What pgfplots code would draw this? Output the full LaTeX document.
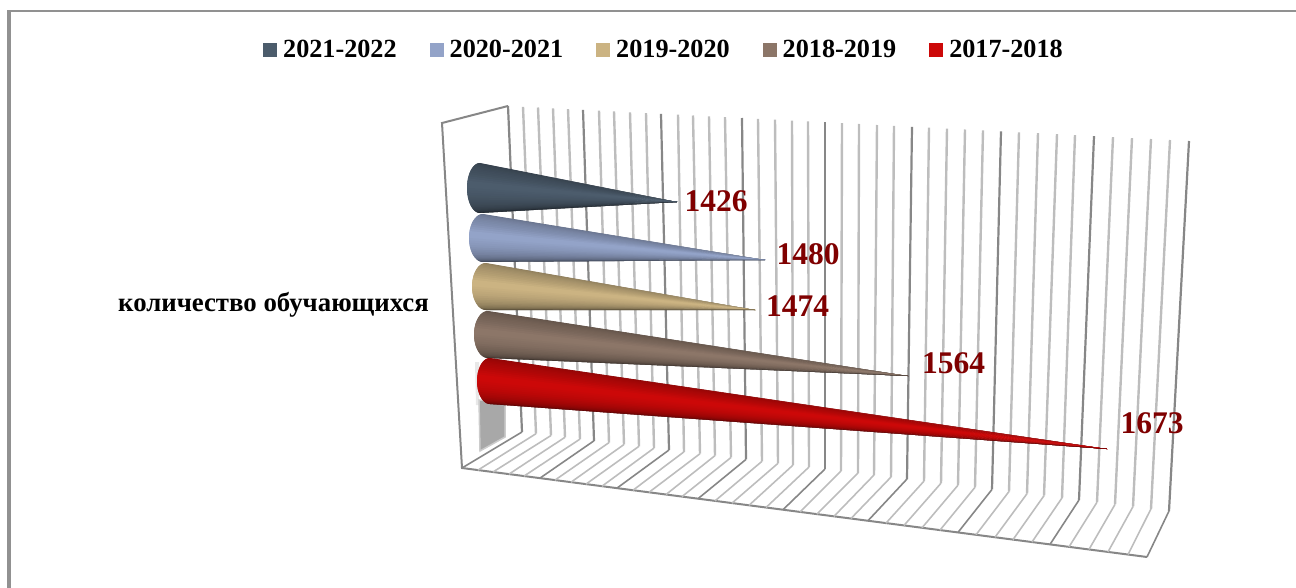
\documentclass[border=0pt]{standalone}
\usepackage{fontspec}
\setmainfont{Liberation Serif}
\usepackage{pgfplots}
\usepackage{pgfplotstable}
\pgfplotsset{compat=1.18}

\definecolor{cDark}{HTML}{4C5C6C}
\definecolor{cBlue}{HTML}{93A3C8}
\definecolor{cTan}{HTML}{CBB382}
\definecolor{cBrown}{HTML}{8C7668}
\definecolor{cRed}{HTML}{CC0808}
\definecolor{lblRed}{HTML}{7F0000}
\definecolor{frameGray}{HTML}{919191}
\definecolor{gridMajor}{HTML}{878787}
\definecolor{gridMinor}{HTML}{BDBDBD}

% value labels: position in picture pixels, value
\pgfplotstableread{
x y v
716 201.5 1426
808 254.5 1480
797.5 306 1474
953.5 363 1564
1152 423 1673
}\labels

\def\profile{{70,72,74,76,78,80,82,84,86,88,91,94,97,100,100,100,98,96,94,92,89,86,83,80,76,72,68,63,58,52,46,40}}

% cone: base centre x,y, half axes a,b, tip x,y, colour
% each band reaches over the next one, which is painted on top, so no seams show
\newcommand{\cone}[7]{%
  \pgfplotsforeachungrouped \i in {0,...,31}{%
    \pgfmathsetmacro\thA{-90+\i*5.625}%
    \pgfmathsetmacro\thB{-90+(\i+1)*5.625}%
    \pgfmathsetmacro\thC{min(90,-90+(\i+2)*5.625)}%
    \pgfmathsetmacro\xA{#1-#3*cos(\thA)}%
    \pgfmathsetmacro\yA{#2+#4*sin(\thA)}%
    \pgfmathsetmacro\xB{#1-#3*cos(\thB)}%
    \pgfmathsetmacro\yB{#2+#4*sin(\thB)}%
    \pgfmathsetmacro\xC{#1-#3*cos(\thC)}%
    \pgfmathsetmacro\yC{#2+#4*sin(\thC)}%
    \pgfmathtruncatemacro\w{\profile[\i]}%
    \edef\band{\noexpand\addplot[forget plot, fill=#7!\w!black, draw=none] coordinates {(\xA,\yA)(\xB,\yB)(\xC,\yC)(#5,#6)} --cycle;}\band
  }%
}
% grid line: wall part, then floor part
\newcommand{\mn}[6]{%
  \addplot[forget plot, gridMinor, line width=2.4pt] coordinates {(#1,#2)(#3,#4)};
  \addplot[forget plot, gridMinor, line width=1.6pt] coordinates {(#3,#4)(#5,#6)};}
\newcommand{\mj}[6]{%
  \addplot[forget plot, gridMajor, line width=2.2pt] coordinates {(#1,#2)(#3,#4)};
  \addplot[forget plot, gridMajor, line width=1.6pt] coordinates {(#3,#4)(#5,#6)};}

\begin{document}
\begin{tikzpicture}
\useasboundingbox (0,0) rectangle (1296pt,588pt);
\begin{axis}[
    scale only axis,
    width=1296pt, height=588pt,
    xmin=0, xmax=1296, ymin=0, ymax=588,
    y dir=reverse,
    hide axis,
    legend columns=5,
    legend style={at={(0.2029,0.9155)}, anchor=west, draw=none, fill=none, inner sep=0pt,
        font=\fontsize{26.2}{30}\selectfont\bfseries, column sep=4pt,
        /tikz/every even column/.append style={column sep=31pt}},
    legend image code/.code={\fill[draw=none, #1] (0pt,-7pt) rectangle (14pt,7pt);},
]
\addlegendimage{fill=cDark}
\addlegendentry{2021-2022}
\addlegendimage{fill=cBlue}
\addlegendentry{2020-2021}
\addlegendimage{fill=cTan}
\addlegendentry{2019-2020}
\addlegendimage{fill=cBrown}
\addlegendentry{2018-2019}
\addlegendimage{fill=cRed}
\addlegendentry{2017-2018}

% chart frame
\addplot[forget plot, frameGray, line width=3.7pt] coordinates {(9.2,588)(9.2,10)};
\addplot[forget plot, frameGray, line width=2pt] coordinates {(7.4,11)(1296,11)};

% left wall and floor edge
\addplot[forget plot, gridMajor, line width=2pt] coordinates {(508,106)(442,123)(462,468)(1147,557)};

% grid: top of back wall, foot of back wall, front of floor
\mj{508}{106}{522}{432}{462}{468}
\mn{523}{106.8}{536}{433.7}{478}{470.1}
\mn{538}{107.5}{551}{435.5}{493}{472}
\mn{553}{108.3}{565}{437.3}{509}{474.1}
\mn{568}{109.1}{580}{439.1}{524}{476.1}
\mj{583}{109.9}{594}{440.8}{540}{478.1}
\mn{599}{110.7}{609}{442.6}{555}{480.1}
\mn{614}{111.4}{624}{444.5}{571}{482.2}
\mn{630}{112.3}{639}{446.3}{586}{484.1}
\mn{646}{113.1}{654}{448.1}{602}{486.2}
\mj{661}{113.9}{669}{450}{617}{488.1}
\mn{678}{114.7}{684}{451.8}{633}{490.2}
\mn{693}{115.5}{700}{453.7}{649}{492.3}
\mn{709}{116.3}{715}{455.6}{666}{494.5}
\mn{725}{117.2}{731}{457.5}{682}{496.6}
\mj{742}{118}{746}{459.4}{698}{498.7}
\mn{758}{118.9}{762}{461.3}{715}{500.9}
\mn{775}{119.7}{778}{463.3}{732}{503.1}
\mn{792}{120.6}{793}{465.1}{749}{505.3}
\mn{808}{121.4}{809}{467}{766}{507.5}
\mj{825}{122.3}{825}{469}{783}{509.7}
\mn{842}{123.2}{841}{470.9}{800}{511.9}
\mn{859}{124}{858}{473}{817}{514.1}
\mn{877}{125}{874}{475}{834}{516.3}
\mn{894}{125.8}{891}{477}{851}{518.5}
\mj{912}{126.8}{907}{479}{868}{520.7}
\mn{929}{127.6}{924}{481.1}{886}{523.1}
\mn{947}{128.6}{941}{483.2}{904}{525.4}
\mn{965}{129.5}{958}{485.2}{922}{527.8}
\mn{983}{130.4}{975}{487.3}{940}{530.1}
\mj{1001}{131.3}{992}{489.4}{958}{532.4}
\mn{1019}{132.3}{1009}{491.5}{976}{534.8}
\mn{1038}{133.2}{1027}{493.7}{995}{537.2}
\mn{1057}{134.2}{1044}{495.7}{1013}{539.6}
\mn{1075}{135.1}{1062}{497.9}{1032}{542}
\mj{1094}{136.1}{1079}{500}{1050}{544.4}
\mn{1113}{137.1}{1097}{502.2}{1069}{546.9}
\mn{1132}{138.1}{1115}{504.4}{1089}{549.4}
\mn{1151}{139}{1133}{506.6}{1108}{551.9}
\mn{1170}{140}{1151}{508.8}{1128}{554.5}
\mj{1189}{141}{1169}{511}{1147}{557}

% shadow behind the red cone
\addplot[forget plot, fill=black!9, draw=none] coordinates {(475,362)(479,362)(479,405)(476,405)} --cycle;
\addplot[forget plot, fill=black!34, draw=black!20, line width=1.5pt] coordinates {(479,400)(505,400)(505,437)(480,451)} --cycle;

\cone{480}{188}{13}{25}{677}{202}{cDark}
\cone{483}{238}{14}{24}{765}{260}{cBlue}
\cone{486}{286.5}{14}{23.5}{755}{310}{cTan}
\cone{488}{334.5}{14}{23.5}{908}{376}{cBrown}
\cone{490}{381}{13}{23}{1107}{449}{cRed}

% value labels
\addplot[forget plot, draw=none, mark=none, point meta=explicit symbolic,
    nodes near coords, nodes near coords align=center,
    every node near coord/.append style={inner sep=0pt, text=lblRed,
        font=\fontsize{31.5}{34}\selectfont\bfseries}]
    table[x=x, y=y, meta=v] {\labels};

% category label
\addplot[forget plot, draw=none, mark=none, point meta=explicit symbolic,
    nodes near coords, nodes near coords align=center,
    every node near coord/.append style={inner sep=0pt, text=black,
        font=\fontsize{26.8}{30}\selectfont\bfseries}]
    coordinates {(273.5,305) [количество обучающихся]};
\end{axis}
\end{tikzpicture}
\end{document}
